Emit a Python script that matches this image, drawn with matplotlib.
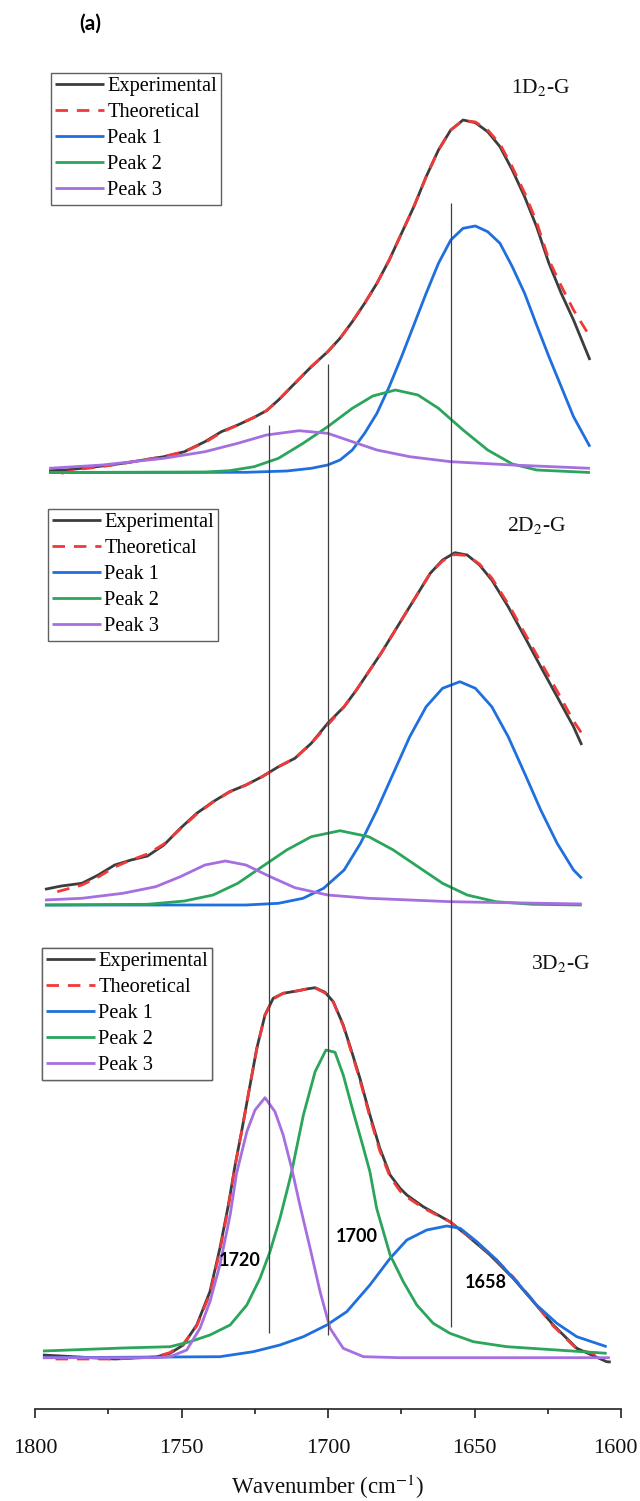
import matplotlib
matplotlib.use('Agg')
import matplotlib.pyplot as plt
import matplotlib.transforms as mtransforms
from matplotlib.ticker import MultipleLocator, FixedLocator

plt.rcParams['font.family'] = ['Liberation Serif', 'DejaVu Serif']
plt.rcParams['mathtext.fontset'] = 'stix'

# ---------------- data (intensity in arbitrary units) ----------------
panel_names = ['1D$_2$-G', '2D$_2$-G', '3D$_2$-G']
series_names = ['Experimental', 'Theoretical', 'Peak 1', 'Peak 2', 'Peak 3']

# Panel 1 (1D2-G)
p1_exp_wn = [1795.2, 1789.6, 1784.0, 1777.0, 1770.0, 1763.0, 1756.0, 1749.0, 1742.0, 1736.4, 1730.8,
             1725.2, 1721.0, 1716.9, 1711.3, 1705.7, 1700.1, 1695.9, 1691.7, 1687.5, 1683.3, 1679.1,
             1674.9, 1670.7, 1666.5, 1662.3, 1658.1, 1653.9, 1649.7, 1645.5, 1641.3, 1637.1, 1632.9,
             1628.8, 1624.6, 1620.4, 1616.2, 1610.6]
p1_exp_I = [1.3, 2, 3.7, 6, 8.7, 12, 15.3, 20.3, 30.3, 40.3, 47, 54.7, 61.3, 72, 88.7, 105.3, 120.3,
            133.7, 150.3, 168.7, 188.7, 212, 238.7, 265.3, 295.3, 322, 342, 352, 349.3, 340.3, 325.3,
            302, 275.3, 245.3, 208.7, 178.7, 152, 112]
p1_theo_wn = [1791.0, 1784.0, 1777.0, 1770.0, 1763.0, 1756.0, 1749.0, 1742.0, 1736.4, 1730.8,
              1725.2, 1721.0, 1716.9, 1711.3, 1705.7, 1700.1, 1695.9, 1691.7, 1687.5, 1683.3, 1679.1,
              1674.9, 1670.7, 1666.5, 1662.3, 1658.1, 1653.9, 1649.7, 1645.5, 1641.3, 1637.1, 1632.9,
              1628.8, 1624.6, 1620.4, 1616.2, 1610.6]
p1_theo_I = [-1.3, 3, 5.5, 8.5, 12, 15.5, 20.5, 29.5, 39.5, 47, 54.7, 61.3, 72, 88.7, 105.3, 120.3,
             133.7, 150.3, 168.7, 188.7, 212, 238.7, 265.3, 295.3, 322, 342, 351.5, 350, 342, 328,
             305, 279, 250, 212, 186, 162, 135.3]
p1_pk1_wn = [1795.2, 1728.0, 1714.1, 1705.7, 1700.1, 1695.9, 1691.7, 1687.5, 1683.3, 1679.1, 1674.9,
             1670.7, 1666.5, 1662.3, 1658.1, 1653.9, 1649.7, 1645.5, 1641.3, 1637.1, 1632.9, 1628.8,
             1624.6, 1620.4, 1616.2, 1610.6]
p1_pk1_I = [-0.5, -0.3, 1, 3.7, 7, 12, 22, 38.7, 58.7, 85.3, 115.3, 147, 178.7, 208.7, 232, 243.7,
            246, 240.3, 228.7, 205.3, 178.7, 147, 115.3, 85.3, 55.3, 25.3]
p1_pk2_wn = [1795.2, 1742.0, 1733.6, 1725.2, 1716.9, 1708.5, 1700.1, 1691.7, 1684.7, 1677.0, 1669.3,
             1662.3, 1653.9, 1645.5, 1637.1, 1628.8, 1610.6]
p1_pk2_I = [-0.5, 0, 1.3, 5.3, 13.7, 28.7, 45.3, 63.7, 76, 82, 77, 63.7, 42, 22, 8, 2, -0.5]
p1_pk3_wn = [1795.2, 1777.0, 1756.0, 1742.0, 1730.8, 1721.0, 1709.9, 1700.1, 1691.7, 1683.3, 1672.1,
             1658.1, 1637.1, 1610.6]
p1_pk3_I = [3.7, 7, 13.7, 20.3, 28.7, 37, 41.3, 38.7, 30.3, 22, 15.3, 10.3, 7, 3.7]

# Panel 2 (2D2-G)
p2_exp_wn = [1796.6, 1791.0, 1784.0, 1778.4, 1772.8, 1767.2, 1761.6, 1756.0, 1750.4, 1744.8, 1739.2,
             1733.6, 1728.0, 1722.5, 1716.9, 1711.3, 1705.7, 1700.1, 1694.5, 1690.3, 1686.1, 1681.9,
             1677.7, 1673.5, 1669.3, 1665.1, 1660.9, 1656.7, 1652.5, 1648.3, 1644.1, 1638.5, 1632.9,
             1627.4, 1621.8, 1616.2, 1613.4]
p2_exp_I = [15.7, 19, 21.7, 30, 40, 45, 49, 60, 76.7, 91.7, 103.3, 113.3, 120, 128.3, 138.3, 146.7,
            161.7, 181.7, 198.3, 215, 233.3, 251.7, 271.7, 291.7, 311.7, 331.7, 345, 352.3, 350, 340,
            325, 298.3, 268.3, 238.3, 208.3, 178.3, 160]
p2_theo_wn = [1792.4, 1784.0, 1778.4, 1772.8, 1767.2, 1761.6, 1756.0, 1750.4, 1744.8, 1739.2,
              1733.6, 1728.0, 1722.5, 1716.9, 1711.3, 1705.7, 1700.1, 1694.5, 1690.3, 1686.1, 1681.9,
              1677.7, 1673.5, 1669.3, 1665.1, 1660.9, 1656.7, 1652.5, 1648.3, 1644.1, 1638.5, 1632.9,
              1627.4, 1621.8, 1616.2, 1613.4]
p2_theo_I = [13.3, 20, 28, 38, 45, 51, 61, 76, 91, 103, 113, 120, 128.3, 138.3, 146.7, 161.7, 180,
             198.3, 215, 233.3, 251.7, 271.7, 291.7, 311.7, 331.7, 344, 350.5, 349.5, 341, 327,
             301, 272, 243, 214, 184, 171.7]
p2_pk1_wn = [1796.6, 1728.0, 1716.9, 1708.5, 1701.5, 1694.5, 1688.9, 1683.3, 1677.7, 1672.1, 1666.5,
             1660.9, 1655.0, 1649.7, 1644.1, 1638.5, 1632.9, 1627.4, 1621.8, 1616.2, 1613.4]
p2_pk1_I = [0, 0, 1.7, 6.7, 16.7, 35, 61.7, 95, 131.7, 168.3, 198.3, 216.7, 223.3, 216.7, 198.3,
            168.3, 131.7, 95, 61.7, 35, 26.7]
p2_pk2_wn = [1796.6, 1761.6, 1749.0, 1739.2, 1730.8, 1722.5, 1714.1, 1705.7, 1695.9, 1686.1, 1677.7,
             1669.3, 1660.9, 1652.5, 1642.7, 1630.2, 1613.4]
p2_pk2_I = [0, 0.7, 4, 10, 21.7, 38.3, 55, 68.3, 74.3, 68.3, 55, 38.3, 21.7, 10, 3.3, 0.7, 0]
p2_pk3_wn = [1796.6, 1784.0, 1770.0, 1758.8, 1750.4, 1742.0, 1735.0, 1728.0, 1719.7, 1711.3, 1700.1,
             1686.1, 1658.1, 1613.4]
p2_pk3_I = [5, 6.7, 11.7, 18.3, 28.3, 40, 44, 40, 28.3, 17.3, 10, 6.7, 3.3, 1]

# Panel 3 (3D2-G)
p3_exp_wn = [1797.3, 1772.8, 1758.8, 1753.9, 1749.4, 1744.8, 1740.3, 1736.9, 1734.0, 1731.7, 1729.5,
             1726.6, 1724.3, 1721.5, 1718.7, 1715.3, 1710.7, 1707.3, 1704.4, 1701.0, 1698.2, 1694.8,
             1691.9, 1689.1, 1685.7, 1682.3, 1678.8, 1675.4, 1673.1, 1667.5, 1658.4, 1652.7, 1644.7,
             1636.8, 1629.9, 1623.1, 1615.1, 1604.9, 1603.5]
p3_exp_I = [2, -2, 0, 3.7, 12, 32, 65.3, 108.7, 152, 192, 225.3, 272, 308.7, 342, 358.7, 363.7, 366,
            368, 369.3, 364.7, 355.3, 332, 305.3, 278.7, 242, 208.7, 182, 168.7, 162, 150.3, 135.3,
            122, 102, 78.7, 55.3, 32, 8.7, -4.7, -5]
p3_theo_wn = [1793.0, 1772.8, 1758.8, 1753.9, 1749.4, 1744.8, 1740.3, 1736.9, 1734.0, 1731.7, 1729.5,
              1726.6, 1724.3, 1721.5, 1718.7, 1715.3, 1710.7, 1707.3, 1704.4, 1701.0, 1698.2, 1694.8,
              1691.9, 1689.1, 1685.7, 1682.3, 1678.8, 1675.4, 1673.1, 1667.5, 1658.4, 1652.7, 1644.7,
              1636.8, 1629.9, 1623.1, 1615.1, 1606.0]
p3_theo_I = [-2, -2, 0, 4.5, 13, 31, 63, 106, 150, 191, 225, 272, 308, 342, 358, 363.7, 366, 368,
             369, 364, 355, 331, 304, 277, 240, 206, 180, 166, 160, 149, 135.3, 122.5, 103, 80,
             56, 31, 8, 0.3]
p3_pk1_wn = [1797.3, 1736.9, 1725.5, 1716.4, 1708.4, 1700.4, 1693.6, 1685.7, 1678.8, 1673.1, 1666.3,
             1659.5, 1654.9, 1649.2, 1642.4, 1635.6, 1628.8, 1621.9, 1615.1, 1604.9]
p3_pk1_I = [-0.7, 0.3, 5.3, 12, 20.3, 32, 45.3, 72, 98.7, 117, 127, 131, 128.7, 115.3, 97, 75.3,
            52, 33.7, 20.3, 10.3]
p3_pk2_wn = [1797.3, 1770.0, 1753.9, 1747.1, 1740.3, 1733.4, 1727.7, 1723.2, 1719.8, 1716.4, 1713.5,
             1712.4, 1708.4, 1704.4, 1700.7, 1697.6, 1694.8, 1691.4, 1688.5, 1685.7, 1683.4, 1678.8,
             1674.3, 1669.7, 1664.1, 1658.4, 1650.4, 1639.0, 1621.9, 1604.9]
p3_pk2_I = [6, 9, 10.3, 15.3, 22, 32, 52, 78.7, 105.3, 138.7, 172, 185.3, 242, 285.3, 307, 304.7,
            282, 245.3, 215.3, 185.3, 148.7, 102, 75.3, 52, 33.7, 23.7, 15.3, 10.3, 7, 3.7]
p3_pk3_wn = [1797.3, 1758.8, 1753.9, 1748.2, 1743.7, 1740.3, 1736.9, 1733.4, 1731.2, 1727.7, 1724.9,
             1721.5, 1718.1, 1715.3, 1712.4, 1709.6, 1706.1, 1702.7, 1699.3, 1694.8, 1687.9, 1675.4,
             1603.8]
p3_pk3_I = [-0.7, -0.7, 0.3, 7, 28.7, 55.3, 92, 142, 183.7, 225.3, 247, 259.3, 245.3, 222, 188.7,
            152, 108.7, 65.3, 28.7, 8.7, 0.3, -0.7, -0.7]

marker_wn = [1720, 1700, 1658]
marker_labels = ['1720', '1700', '1658']

x_ticks = [1800, 1750, 1700, 1650, 1600]

# ---------------- layout / style ----------------
panels = [
    [(p1_exp_wn, p1_exp_I), (p1_theo_wn, p1_theo_I), (p1_pk1_wn, p1_pk1_I), (p1_pk2_wn, p1_pk2_I), (p1_pk3_wn, p1_pk3_I)],
    [(p2_exp_wn, p2_exp_I), (p2_theo_wn, p2_theo_I), (p2_pk1_wn, p2_pk1_I), (p2_pk2_wn, p2_pk2_I), (p2_pk3_wn, p2_pk3_I)],
    [(p3_exp_wn, p3_exp_I), (p3_theo_wn, p3_theo_I), (p3_pk1_wn, p3_pk1_I), (p3_pk2_wn, p3_pk2_I), (p3_pk3_wn, p3_pk3_I)],
]
offsets = [937, 504, 52]
colors = ['#3d3d3d', '#f03a3a', '#1f6fdf', '#2ba55b', '#a56fe0']
styles = ['-', (0, (4.5, 3.2)), '-', '-', '-']
legend_anchor = [(51, 73), (48, 509), (42, 948)]
name_pos = [(1627.3, 1321), (1628.8, 884), (1620.5, 445)]

W, H = 640, 1501
fig = plt.figure(figsize=(W / 100, H / 100), dpi=100)
ax = fig.add_axes([35 / W, 92 / H, 586 / W, 1369 / H])
ax.set_xlim(1800, 1600)
ax.set_ylim(0, 1369)

for pi, panel in enumerate(panels):
    handles = []
    for si, (wn, inten) in enumerate(panel):
        y = [v + offsets[pi] for v in inten]
        ln, = ax.plot(wn, y, color=colors[si], lw=2.0, linestyle=styles[si],
                      solid_capstyle='butt', solid_joinstyle='round',
                      label=series_names[si], zorder=3 + si)
        handles.append(ln)
    leg = ax.legend(handles=handles, loc='upper left',
                    bbox_to_anchor=(legend_anchor[pi][0] / W, 1 - legend_anchor[pi][1] / H),
                    bbox_transform=fig.transFigure, borderaxespad=0, frameon=True,
                    fancybox=False, edgecolor='#606060', framealpha=1,
                    prop={'family': 'Liberation Serif', 'size': 14.7},
                    handlelength=2.4, handletextpad=0.15, labelspacing=0.33,
                    borderpad=0.2)
    leg.get_frame().set_linewidth(1.0)
    ax.add_artist(leg)
    ax.text(name_pos[pi][0], name_pos[pi][1], panel_names[pi], fontsize=15.5,
            ha='center', va='center', color='#111111')

# vertical marker lines
marker_ymin = [76, 74, 82]
marker_ymax = [984, 1045, 1206]
ax.vlines(marker_wn, marker_ymin, marker_ymax, colors='#404040', lw=0.9, zorder=10)

label_pos = [(1730, 149), (1690.2, 172.5), (1646, 126)]
for (lx, ly), lab in zip(label_pos, marker_labels):
    ax.text(lx, ly, lab, family=['Lato', 'DejaVu Sans'], fontweight='bold', fontsize=13,
            ha='center', va='center', zorder=12)

# axes styling
for s in ['left', 'right', 'top']:
    ax.spines[s].set_visible(False)
ax.spines['bottom'].set_linewidth(1.2)
ax.spines['bottom'].set_color('#222222')
ax.set_yticks([])
ax.xaxis.set_major_locator(FixedLocator(x_ticks))
ax.xaxis.set_minor_locator(MultipleLocator(25))
ax.tick_params(axis='x', which='major', direction='out', length=6.5, width=1.2,
               labelsize=16, pad=15, colors='#222222', labelcolor='#111111')
ax.tick_params(axis='x', which='minor', direction='out', length=3.6, width=1.2, colors='#222222')
ax.set_xlabel('Wavenumber (cm$^{-1}$)', fontsize=16.5, labelpad=11, color='#111111')

# keep the last tick label inside the canvas
fig.canvas.draw()
last_lab = ax.get_xticklabels()[-1]
last_lab.set_transform(last_lab.get_transform() +
                       mtransforms.ScaledTranslation(-6 / 100, 0, fig.dpi_scale_trans))

fig.text(90 / W, 1 - 24 / H, '(a)', family=['Lato', 'DejaVu Sans'], fontweight='bold',
         fontsize=15, ha='center', va='center')

fig.savefig('out.png', dpi=100)
